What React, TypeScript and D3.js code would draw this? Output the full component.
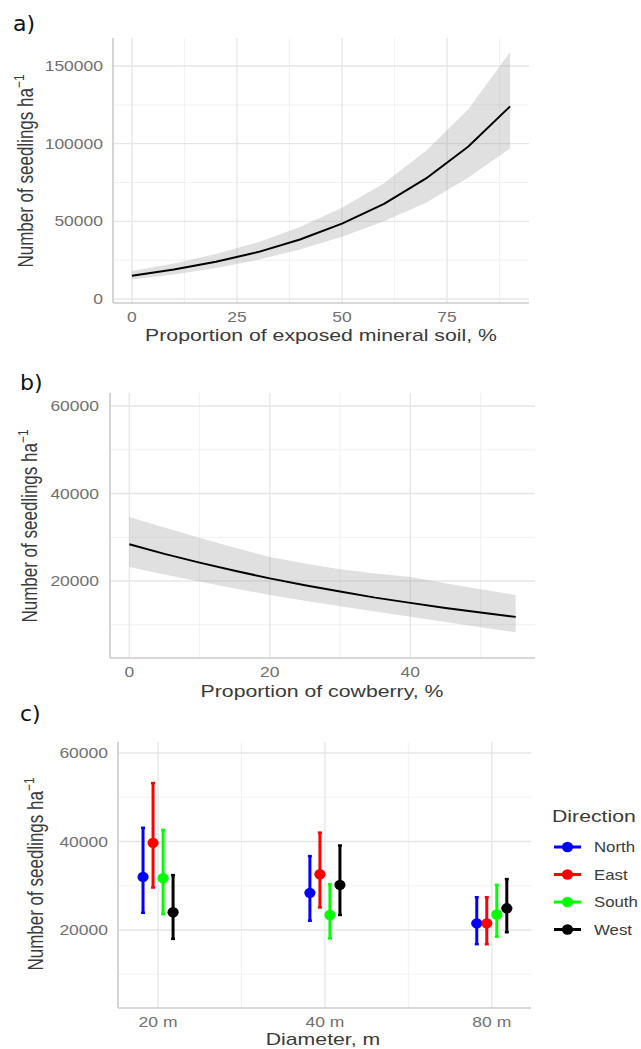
import React from "react";
import * as d3 from "d3";

const W = 641;
const H = 1049;
const FONT = "'Liberation Sans', Arial, Helvetica, sans-serif";
const SX = 1.25;

// ---------- Panel a: exposed mineral soil ----------
const soilPct = [0, 10, 20, 30, 40, 50, 60, 70, 80, 90];
const soilFit = [15000, 19000, 24000, 30200, 38300, 48500, 61300, 77600, 98000, 124000];
const soilUpper = [18000, 22900, 29000, 36600, 46300, 58700, 74500, 95500, 122000, 159000];
const soilLower = [12500, 15800, 20000, 25200, 31900, 40000, 50000, 62000, 78000, 97000];
const soilXTicks = [0, 25, 50, 75];
const soilXMinor = [12.5, 37.5, 62.5, 87.5];
const soilYTicks = [0, 50000, 100000, 150000];
const soilYMinor = [25000, 75000, 125000];

// ---------- Panel b: cowberry ----------
const cowPct = [0, 5, 10, 15, 20, 25, 30, 35, 40, 45, 50, 55];
const cowFit = [28400, 26200, 24200, 22350, 20600, 19050, 17600, 16200, 15000, 13850, 12800, 11800];
const cowUpper = [34600, 32200, 29900, 27600, 25500, 24000, 22700, 21700, 20900, 19500, 18100, 16800];
const cowLower = [23200, 21500, 19900, 18300, 16800, 15500, 14200, 13000, 11800, 10600, 9400, 8300];
const cowXTicks = [0, 20, 40];
const cowXMinor = [10, 30, 50];
const cowYTicks = [20000, 40000, 60000];
const cowYMinor = [10000, 30000, 50000];

// ---------- Panel c: diameter x direction ----------
const diameters = ["20 m", "40 m", "80 m"];
const directions = ["North", "East", "South", "West"];
const directionColors = ["#0000ff", "#ff0000", "#00ff00", "#000000"];
const northMean = [32000, 28400, 21500];
const northLow = [23900, 22100, 16800];
const northHigh = [43100, 36700, 27400];
const eastMean = [39700, 32600, 21500];
const eastLow = [29600, 25100, 16800];
const eastHigh = [53200, 42000, 27400];
const southMean = [31700, 23400, 23500];
const southLow = [23600, 18100, 18500];
const southHigh = [42600, 30300, 30200];
const westMean = [24000, 30200, 24900];
const westLow = [18000, 23400, 19500];
const westHigh = [32400, 39100, 31500];
const diamYTicks = [20000, 40000, 60000];
const diamYMinor = [10000, 30000, 50000];

const dirMeans = [northMean, eastMean, southMean, westMean];
const dirLows = [northLow, eastLow, southLow, westLow];
const dirHighs = [northHigh, eastHigh, southHigh, westHigh];

const TICK_COLOR = "#707070";
const TITLE_COLOR = "#3a3a3a";
const MAJOR = "#e6e6e6";
const MINOR = "#efefef";
const AXIS = "#cbcbcb";

type TProps = {
  x: number;
  y: number;
  size: number;
  color?: string;
  anchor?: "start" | "middle" | "end";
  rotate?: boolean;
  sx?: number;
  family?: string;
  dy?: string;
  children: React.ReactNode;
};

function T({ x, y, size, color = TITLE_COLOR, anchor = "start", rotate = false, sx = SX, family = FONT, dy, children }: TProps) {
  return (
    <text
      transform={`translate(${x},${y}) scale(${sx},1)${rotate ? " rotate(-90)" : ""}`}
      fontSize={size}
      fill={color}
      textAnchor={anchor}
      fontFamily={family}
      dy={dy}
    >
      {children}
    </text>
  );
}

function YTitle({ x, y }: { x: number; y: number }) {
  return (
    <T x={x} y={y} size={17} anchor="middle" rotate sx={SX}>
      Number of seedlings ha
      <tspan fontSize={12} dy={-7}>−1</tspan>
    </T>
  );
}

type Lin = d3.ScaleLinear<number, number>;

function Grid({ x, y, xMajor, xMinor, yMajor, yMinor }: { x: Lin; y: Lin; xMajor: number[]; xMinor: number[]; yMajor: number[]; yMinor: number[] }) {
  const [x0, x1] = x.range();
  const [y0, y1] = y.range();
  return (
    <g>
      {yMinor.map((v) => (
        <line key={"ym" + v} x1={x0} x2={x1} y1={y(v)} y2={y(v)} stroke={MINOR} strokeWidth={0.9} />
      ))}
      {xMinor.map((v) => (
        <line key={"xm" + v} x1={x(v)} x2={x(v)} y1={y0} y2={y1} stroke={MINOR} strokeWidth={0.9} />
      ))}
      {yMajor.map((v) => (
        <line key={"yM" + v} x1={x0} x2={x1} y1={y(v)} y2={y(v)} stroke={MAJOR} strokeWidth={1.3} />
      ))}
      {xMajor.map((v) => (
        <line key={"xM" + v} x1={x(v)} x2={x(v)} y1={y0} y2={y1} stroke={MAJOR} strokeWidth={1.3} />
      ))}
    </g>
  );
}

function Axes({ x, y }: { x: Lin; y: Lin }) {
  const [x0, x1] = x.range();
  const [y0, y1] = y.range();
  return (
    <g>
      <line x1={x0} x2={x0} y1={y1} y2={y0} stroke={AXIS} strokeWidth={1.6} />
      <line x1={x0} x2={x1} y1={y0} y2={y0} stroke={AXIS} strokeWidth={1.6} />
    </g>
  );
}

function YTickLabels({ y, ticks, right }: { y: Lin; ticks: number[]; right: number }) {
  return (
    <g>
      {ticks.map((v) => (
        <T key={v} x={right} y={y(v)} size={14} color={TICK_COLOR} anchor="end" dy="0.36em">
          {String(v)}
        </T>
      ))}
    </g>
  );
}

function CurvePanel({
  xs, fit, upper, lower, x, y, xMajor, xMinor, yMajor, yMinor,
}: {
  xs: number[]; fit: number[]; upper: number[]; lower: number[]; x: Lin; y: Lin;
  xMajor: number[]; xMinor: number[]; yMajor: number[]; yMinor: number[];
}) {
  const idx = xs.map((_, i) => i);
  const area = d3
    .area<number>()
    .x((i) => x(xs[i]))
    .y0((i) => y(lower[i]))
    .y1((i) => y(upper[i]));
  const line = d3
    .line<number>()
    .x((i) => x(xs[i]))
    .y((i) => y(fit[i]));
  const yBase = y.range()[0];
  return (
    <g>
      <Grid x={x} y={y} xMajor={xMajor} xMinor={xMinor} yMajor={yMajor} yMinor={yMinor} />
      <path d={area(idx) || ""} fill="#999999" fillOpacity={0.3} />
      <path d={line(idx) || ""} fill="none" stroke="#000" strokeWidth={2} strokeLinejoin="round" />
      <Axes x={x} y={y} />
      {xMajor.map((v) => (
        <T key={v} x={x(v)} y={yBase + 18.5} size={14} color={TICK_COLOR} anchor="middle">
          {String(v)}
        </T>
      ))}
    </g>
  );
}

export default function App() {
  // Panel a scales
  const xA = d3.scaleLinear().domain([-4.5, 94.5]).range([113, 529]);
  const yA = d3.scaleLinear().domain([-2575, 168030]).range([303, 38]);
  // Panel b scales
  const xB = d3.scaleLinear().domain([-2.75, 57.75]).range([110, 535]);
  const yB = d3.scaleLinear().domain([2400, 62970]).range([658, 393]);
  // Panel c scales
  const xC = d3.scaleLinear().domain([0.76, 3.235]).range([118, 531]);
  const yC = d3.scaleLinear().domain([2373, 62486]).range([1008, 742]);
  const dodge = [-0.09, -0.03, 0.03, 0.09];

  return (
    <div style={{ position: "absolute", left: 0, top: 0, width: W, height: H, background: "#fff" }}>
      <svg width={W} height={H} viewBox={`0 0 ${W} ${H}`} style={{ display: "block" }}>
        <rect x={0} y={0} width={W} height={H} fill="#fff" />

        {/* ---------- a ---------- */}
        <T x={13} y={31} size={21} color="#111" sx={1.05} family="'DejaVu Sans', Verdana, sans-serif">a)</T>
        <CurvePanel xs={soilPct} fit={soilFit} upper={soilUpper} lower={soilLower} x={xA} y={yA}
          xMajor={soilXTicks} xMinor={soilXMinor} yMajor={soilYTicks} yMinor={soilYMinor} />
        <YTickLabels y={yA} ticks={soilYTicks} right={103} />
        <YTitle x={33} y={171} />
        <T x={321} y={341} size={17} anchor="middle">Proportion of exposed mineral soil, %</T>

        {/* ---------- b ---------- */}
        <T x={20} y={390} size={21} color="#111" sx={1.05} family="'DejaVu Sans', Verdana, sans-serif">b)</T>
        <CurvePanel xs={cowPct} fit={cowFit} upper={cowUpper} lower={cowLower} x={xB} y={yB}
          xMajor={cowXTicks} xMinor={cowXMinor} yMajor={cowYTicks} yMinor={cowYMinor} />
        <YTickLabels y={yB} ticks={cowYTicks} right={99} />
        <YTitle x={37} y={526} />
        <T x={322} y={697} size={17} anchor="middle">Proportion of cowberry, %</T>

        {/* ---------- c ---------- */}
        <T x={20} y={721} size={21} color="#111" sx={1.05} family="'DejaVu Sans', Verdana, sans-serif">c)</T>
        <Grid x={xC} y={yC} xMajor={[1, 2, 3]} xMinor={[1.5, 2.5]} yMajor={diamYTicks} yMinor={diamYMinor} />
        {directions.map((d, di) =>
          diameters.map((_, ci) => {
            const cx = xC(ci + 1 + dodge[di]);
            return (
              <g key={d + ci}>
                <line x1={cx} x2={cx} y1={yC(dirLows[di][ci])} y2={yC(dirHighs[di][ci])} stroke={directionColors[di]} strokeWidth={3} />
                <line x1={cx - 2} x2={cx + 2} y1={yC(dirLows[di][ci])} y2={yC(dirLows[di][ci])} stroke={directionColors[di]} strokeWidth={2.5} />
                <line x1={cx - 2} x2={cx + 2} y1={yC(dirHighs[di][ci])} y2={yC(dirHighs[di][ci])} stroke={directionColors[di]} strokeWidth={2.5} />
                <ellipse cx={cx} cy={yC(dirMeans[di][ci])} rx={5.6} ry={5.2} fill={directionColors[di]} />
              </g>
            );
          })
        )}
        <Axes x={xC} y={yC} />
        <YTickLabels y={yC} ticks={diamYTicks} right={108} />
        {diameters.map((lab, i) => (
          <T key={lab} x={xC(i + 1)} y={1027} size={14} color={TICK_COLOR} anchor="middle">{lab}</T>
        ))}
        <YTitle x={43} y={874} />
        <T x={323} y={1045} size={17} anchor="middle">Diameter, m</T>

        {/* legend */}
        <T x={552} y={822} size={17}>Direction</T>
        {directions.map((d, i) => {
          const ly = 847 + i * 27.5;
          return (
            <g key={d}>
              <line x1={554} x2={581} y1={ly} y2={ly} stroke={directionColors[i]} strokeWidth={3} />
              <ellipse cx={567.5} cy={ly} rx={5.6} ry={5.2} fill={directionColors[i]} />
              <T x={594} y={ly} size={14} sx={1.2} dy="0.36em">{d}</T>
            </g>
          );
        })}
      </svg>
    </div>
  );
}
